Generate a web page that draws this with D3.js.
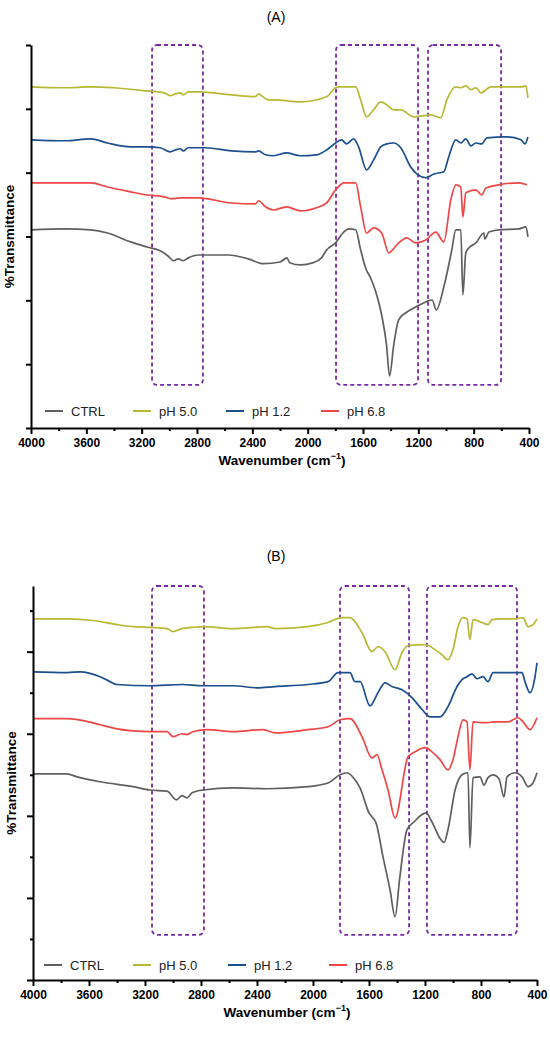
<!DOCTYPE html>
<html>
<head>
<meta charset="utf-8">
<script src="https://cdn.jsdelivr.net/npm/d3@7"></script>
<style>
  body { margin: 0; background: #fff; }
  svg text { font-family: "Liberation Sans", Arial, sans-serif; }
</style>
</head>
<body>
<svg id="chart" width="550" height="1037"></svg>
<script>
// series names and colours (legend order)
const seriesNames = ["CTRL", "pH 5.0", "pH 1.2", "pH 6.8"];
const seriesColors = ["#5f5f5f", "#b7b935", "#1c4f8e", "#ef4646"];

const xTicksMajor = [4000, 3600, 3200, 2800, 2400, 2000, 1600, 1200, 800, 400];

// ---- panel A : [wavenumber, %T (offset, arbitrary)]
const aCtrl = [[4000,62.1],[3755,62.4],[3570,62.1],[3447,61.1],[3280,58.3],[3160,56.7],[3066,55.5],[3010,53.9],
  [2970,52.4],[2935,53.0],[2900,52.4],[2863,53.3],[2790,54.2],[2573,54.2],[2430,53.0],[2320,51.5],[2200,52.0],
  [2150,53.3],[2130,51.8],[2050,51.1],[1960,51.8],[1900,53.3],[1863,55.8],[1798,58.0],[1740,61.4],[1700,62.4],
  [1653,62.1],[1617,55.8],[1580,50.0],[1545,47.0],[1510,43.0],[1465,35.4],[1430,26.0],[1408,16.3],[1378,26.0],
  [1342,33.9],[1290,36.1],[1233,37.6],[1146,39.5],[1100,40.1],[1070,37.0],[1016,44.2],[958,55.8],[929,62.1],
  [893,62.1],[878,41.7],[857,54.9],[835,56.4],[784,58.0],[726,61.1],[719,59.2],[690,61.4],[618,62.1],[473,62.4],
  [422,63.0],[408,59.9]];
const aPh50 = [[4000,106.9],[3755,106.6],[3570,106.9],[3400,106.6],[3160,105.6],[3036,105.0],[2993,104.1],[2957,104.7],
  [2920,105.0],[2899,104.4],[2863,105.3],[2790,105.3],[2551,104.4],[2378,103.8],[2356,104.7],[2334,104.1],[2283,102.8],
  [2247,102.8],[2052,102.2],[1863,103.8],[1798,106.6],[1762,106.9],[1653,106.9],[1617,102.8],[1574,97.5],[1523,99.7],
  [1472,102.2],[1429,101.3],[1378,99.7],[1327,99.7],[1233,97.5],[1110,98.1],[1038,97.2],[994,102.8],[929,106.9],
  [893,106.6],[857,107.2],[820,106.0],[784,106.6],[748,105.0],[676,106.9],[560,106.9],[458,106.9],[422,107.2],[408,103.4]];
const aPh12 = [[4000,90.3],[3755,90.0],[3570,90.6],[3447,89.3],[3280,88.1],[3160,88.1],[3066,87.8],[2993,86.5],[2957,87.1],
  [2920,87.5],[2899,86.8],[2863,87.8],[2740,87.8],[2551,86.8],[2378,86.5],[2356,86.8],[2305,85.6],[2247,85.3],[2153,86.2],
  [2052,85.3],[1936,85.6],[1863,87.1],[1798,89.3],[1755,90.3],[1719,89.0],[1668,90.6],[1632,88.1],[1574,80.9],[1523,84.0],
  [1472,88.1],[1429,89.0],[1378,89.3],[1327,87.8],[1255,81.8],[1211,79.6],[1146,78.4],[1088,79.6],[1016,80.3],[980,85.0],
  [929,90.3],[893,89.3],[857,90.6],[820,88.4],[784,89.3],[741,89.0],[705,90.9],[560,91.2],[458,90.3],[429,89.0],[408,91.2]];
const aPh68 = [[4000,76.8],[3755,76.8],[3570,76.8],[3447,75.5],[3280,74.0],[3160,73.0],[3036,72.4],[2985,71.8],[2920,72.1],
  [2790,72.1],[2551,70.5],[2378,70.2],[2356,71.2],[2305,69.3],[2247,68.3],[2153,69.3],[2052,68.0],[1936,69.0],[1863,70.5],
  [1798,74.6],[1762,76.2],[1740,76.8],[1653,76.8],[1617,69.3],[1574,61.1],[1523,62.7],[1465,61.1],[1414,54.9],[1342,58.0],
  [1284,59.6],[1219,58.0],[1146,58.9],[1074,61.4],[1016,58.3],[965,71.5],[929,76.2],[893,75.5],[878,66.1],[857,73.7],
  [784,74.6],[741,73.0],[712,75.2],[618,76.2],[473,76.8],[415,76.2]];

// ---- panel B
const bCtrl = [[4000,50.2],[3757,50.2],[3686,49.5],[3521,48.3],[3286,47.1],[3164,46.3],[3043,46.0],[2975,43.9],[2936,44.9],
  [2900,44.4],[2864,45.6],[2786,46.3],[2571,46.8],[2329,46.6],[2036,47.1],[1893,48.0],[1807,50.0],[1757,50.5],[1700,48.8],
  [1664,46.8],[1600,40.7],[1550,38.3],[1500,30.0],[1450,22.0],[1414,15.4],[1380,25.0],[1329,36.6],[1279,38.5],[1193,40.7],
  [1150,38.5],[1093,34.5],[1064,33.5],[1036,36.6],[985,46.3],[936,50.0],[893,50.5],[879,32.2],[857,49.3],[807,49.5],
  [779,47.5],[750,49.3],[714,50.0],[671,49.0],[636,44.6],[614,49.5],[557,50.5],[507,49.5],[464,47.1],[429,48.0],[400,50.5]];
const bPh50 = [[4000,88.0],[3757,88.0],[3571,87.6],[3400,86.6],[3286,86.1],[3164,85.9],[3043,85.6],[3000,84.9],[2936,85.6],
  [2864,85.9],[2786,86.1],[2571,85.6],[2329,86.1],[2271,85.6],[2036,86.1],[1893,87.1],[1793,88.3],[1736,88.3],[1650,84.6],
  [1579,80.0],[1536,81.2],[1486,80.0],[1414,75.6],[1364,79.8],[1321,81.5],[1200,81.7],[1129,80.5],[1079,79.3],[1036,78.0],
  [1000,80.5],[964,86.1],[929,88.3],[900,88.0],[879,82.9],[857,87.8],[793,87.1],[750,86.6],[721,87.8],[650,88.0],[557,88.0],
  [500,88.3],[464,86.1],[429,86.6],[400,88.0]];
const bPh12 = [[4000,75.1],[3757,74.9],[3664,75.1],[3521,73.9],[3450,72.7],[3400,72.0],[3164,71.7],[2936,72.0],[2786,71.7],
  [2571,71.7],[2400,71.2],[2271,71.5],[2036,72.0],[1893,72.7],[1821,74.9],[1736,74.9],[1700,72.7],[1664,72.7],[1593,66.8],
  [1536,70.0],[1486,72.4],[1436,71.5],[1364,70.7],[1293,68.8],[1221,65.9],[1164,64.1],[1093,64.1],[1036,66.6],[971,71.5],
  [936,73.2],[900,73.9],[864,74.6],[829,73.4],[786,73.9],[750,72.7],[714,74.9],[607,74.9],[507,74.9],[486,72.7],[450,70.0],
  [414,73.9],[400,77.3]];
const bPh68 = [[4000,63.7],[3757,63.7],[3600,62.9],[3521,62.2],[3400,61.2],[3286,60.7],[3164,60.5],[3043,60.5],[3000,59.3],
  [2936,60.0],[2900,59.8],[2857,60.5],[2757,61.0],[2571,60.5],[2357,61.0],[2271,60.2],[2036,61.0],[1893,61.7],[1807,63.4],
  [1736,63.7],[1650,59.3],[1579,54.1],[1543,54.9],[1507,51.2],[1464,46.3],[1414,39.5],[1321,54.4],[1271,55.6],[1200,56.6],
  [1150,55.6],[1093,53.7],[1036,51.2],[1000,53.7],[964,59.3],[929,63.4],[900,62.9],[879,51.2],[857,62.9],[793,62.7],
  [750,62.7],[714,62.9],[607,62.9],[536,63.9],[500,62.9],[450,61.0],[400,63.9]];

// highlighted regions [from, to] in cm-1
const aRegions = [[3125, 2757], [1795, 1202], [1130, 602]];
const bRegions = [[3150, 2779], [1807, 1314], [1186, 543]];

const svg = d3.select("#chart");

function drawPanel(p) {
  const x = d3.scaleLinear().domain([4000, 400]).range([p.left, p.right]);
  const y = d3.scaleLinear().domain(p.yDomain).range([p.bottom, p.top]);
  const g = svg.append("g");

  // title
  g.append("text").attr("x", 276).attr("y", p.titleY)
    .attr("text-anchor", "middle").attr("font-size", 14).text(p.title);

  // dashed regions
  g.selectAll("rect.region").data(p.regions).join("rect")
    .attr("class", "region")
    .attr("x", d => x(d[0])).attr("width", d => x(d[1]) - x(d[0]))
    .attr("y", y(p.yDomain[1])).attr("height", y(p.boxLow) - y(p.yDomain[1]))
    .attr("rx", 5)
    .attr("fill", "none").attr("stroke", "#7a28a6").attr("stroke-width", 1.8)
    .attr("stroke-dasharray", "4,3");

  // spectra
  const line = d3.line().x(d => x(d[0])).y(d => y(d[1])).curve(d3.curveMonotoneX);
  g.selectAll("path.spec").data(p.series).join("path")
    .attr("class", "spec")
    .attr("d", d => line(d))
    .attr("fill", "none")
    .attr("stroke", (d, i) => seriesColors[i])
    .attr("stroke-width", 1.7);

  // x axis
  const xAxis = d3.axisBottom(x).tickValues(xTicksMajor).tickSize(6).tickSizeOuter(0)
    .tickFormat(d3.format("d"));
  const gx = g.append("g").attr("transform", `translate(0,${p.bottom})`).call(xAxis);
  gx.append("g").call(d3.axisBottom(x).tickValues(d3.range(3800, 400, -400)).tickSize(3).tickFormat(""))
    .select(".domain").remove();
  gx.selectAll(".domain, line").attr("stroke", "#000").attr("stroke-width", 2);
  gx.selectAll("text").attr("font-size", 12).attr("font-weight", "bold")
    .attr("fill", "#000").attr("dy", "0.85em");

  g.append("text").attr("x", (p.left + p.right) / 2 + 2).attr("y", p.bottom + 37)
    .attr("text-anchor", "middle").attr("font-size", 13.5).attr("font-weight", "bold")
    .html('Wavenumber (cm<tspan dy="-6" font-size="9">−1</tspan><tspan dy="6">)</tspan>');

  // y axis
  const yAxis = d3.axisLeft(y).tickValues(p.yMajor).tickSize(p.majorLen).tickSizeOuter(0).tickFormat("");
  const gy = g.append("g").attr("transform", `translate(${p.left},0)`).call(yAxis);
  if (p.yMinor.length) {
    gy.append("g").call(d3.axisLeft(y).tickValues(p.yMinor).tickSize(3).tickFormat(""))
      .select(".domain").remove();
  }
  gy.selectAll(".domain, line").attr("stroke", "#000").attr("stroke-width", 2);

  g.append("text")
    .attr("transform", `translate(${p.left - 17},${(p.top + p.bottom) / 2}) rotate(-90)`)
    .attr("text-anchor", "middle").attr("font-size", 13.5).attr("font-weight", "bold")
    .text("%Transmittance");

  // legend
  const lg = g.selectAll("g.leg").data(seriesNames).join("g")
    .attr("class", "leg")
    .attr("transform", (d, i) => `translate(${p.legendX[i]},${p.legendY})`);
  lg.append("line").attr("x1", 0).attr("x2", 18)
    .attr("stroke", (d, i) => seriesColors[i]).attr("stroke-width", 2);
  lg.append("text").attr("x", 26).attr("dy", "0.35em").attr("font-size", 13)
    .attr("fill", "#222").text(d => d);
}

drawPanel({
  title: "(A)", titleY: 22,
  left: 31, right: 529, top: 45, bottom: 428,
  yDomain: [0, 120], boxLow: 13.5,
  yMajor: d3.range(0, 121, 20), yMinor: [], majorLen: 5,
  regions: aRegions,
  series: [aCtrl, aPh50, aPh12, aPh68],
  legendX: [45, 133, 226, 321], legendY: 411
});

drawPanel({
  title: "(B)", titleY: 561,
  left: 33, right: 537, top: 586, bottom: 980,
  yDomain: [0, 96], boxLow: 11,
  yMajor: d3.range(0, 81, 20), yMinor: d3.range(10, 91, 20), majorLen: 6,
  regions: bRegions,
  series: [bCtrl, bPh50, bPh12, bPh68],
  legendX: [44, 133, 228, 329], legendY: 965
});
</script>
</body>
</html>
